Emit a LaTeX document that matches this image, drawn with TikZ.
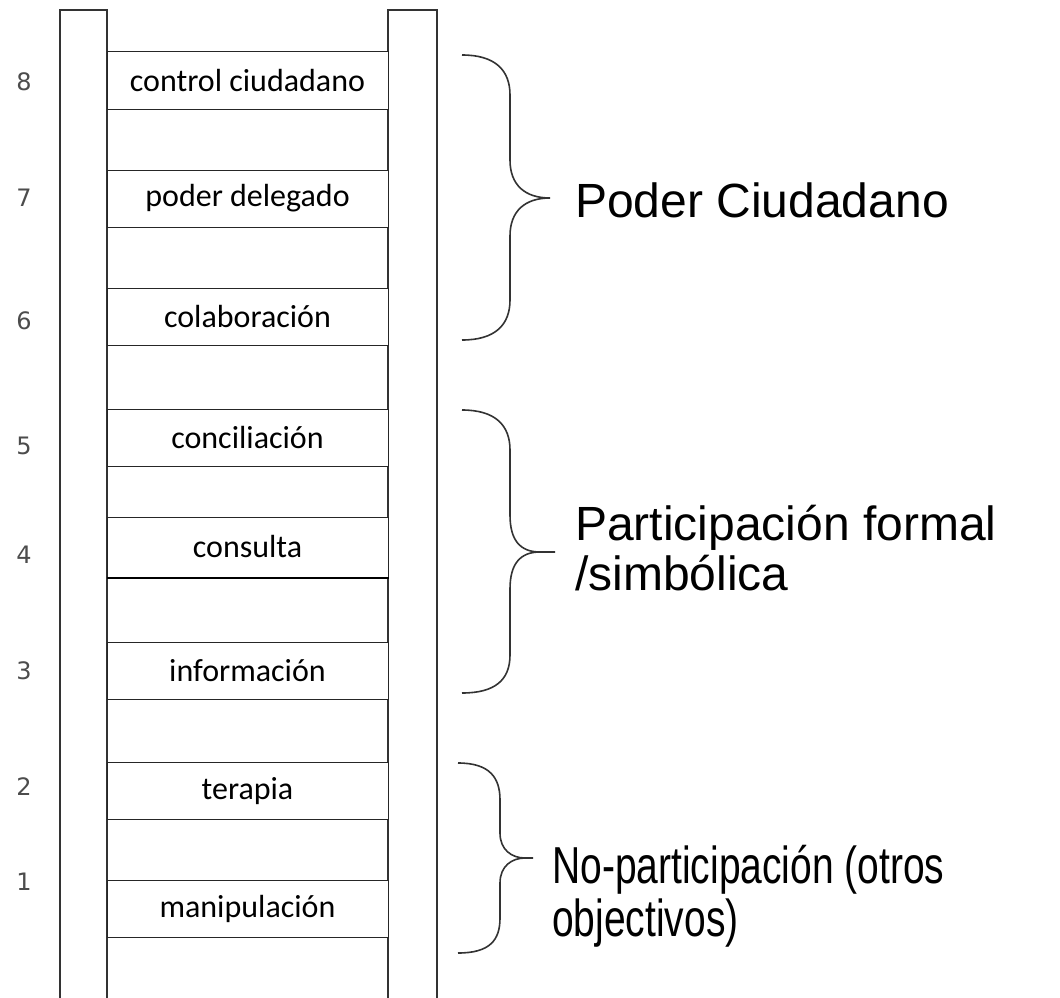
\documentclass[tikz,border=0pt]{standalone}
\usepackage{fontspec}
\newfontfamily\rungfont{Carlito}
\newfontfamily\labfont{Liberation Sans}
\newfontfamily\narrowfont{Liberation Sans}[FakeStretch=0.75]
\newfontfamily\numfont{DejaVu Sans}
\begin{document}
\begin{tikzpicture}[x=1pt,y=-1pt,
  rail/.style={draw=black!80,line width=2.6pt,fill=white},
  rung/.style={draw=black!85,line width=1pt,fill=white,minimum width=281pt,minimum height=57pt,inner sep=0pt,font=\rungfont\fontsize{32}{38}\selectfont},
  num/.style={font=\numfont\fontsize{24}{28}\selectfont,text=black!70,inner sep=0pt},
  lab/.style={font=\labfont\fontsize{48}{50}\selectfont,anchor=base west,inner sep=0pt},
  narrowlab/.style={font=\narrowfont\fontsize{52}{52}\selectfont,anchor=base west,inner sep=0pt},
  bracepath/.style={draw=black!80,line width=1.6pt}]
\useasboundingbox (0,0) rectangle (1060,998);
% rails
\draw[rail] (60,1010) -- (60,10) -- (107,10) -- (107,1010);
\draw[rail] (388,1010) -- (388,10) -- (437,10) -- (437,1010);
% rungs
\node[rung] (r8) at (247.5,80.5) {control ciudadano};
\node[rung] (r7) at (247.5,198.5) {poder delegado};
\node[rung] (r6) at (247.5,316.5) {colaboración};
\node[rung] (r5) at (247.5,438) {conciliación};
\node[rung,minimum height=60pt] (r4) at (247.5,547) {consulta};
\draw[black,line width=2pt] (r4.south west) -- (r4.south east);
\node[rung] (r3) at (247.5,671) {información};
\node[rung] (r2) at (247.5,791) {terapia};
\node[rung] (r1) at (247.5,908.5) {manipulación};
% numbers
\node[num] (n8) at (24,82) {8};
\node[num] (n7) at (24,198) {7};
\node[num] (n6) at (24,321) {6};
\node[num] (n5) at (24,446) {5};
\node[num] (n4) at (24,555) {4};
\node[num] (n3) at (24,671) {3};
\node[num] (n2) at (24,787) {2};
\node[num] (n1) at (24,882) {1};
% braces
\draw[bracepath] (462,55) .. controls (495,55) and (510,70) .. (510,95) -- (510,160)
  .. controls (510,185) and (525,198) .. (550,198)
  .. controls (525,198) and (510,211) .. (510,236) -- (510,300)
  .. controls (510,325) and (495,340) .. (462,340);
\draw[bracepath] (462,410) .. controls (495,410) and (510,425) .. (510,450) -- (510,515)
  .. controls (510,540) and (520,552) .. (540,552) -- (555,552);
\draw[bracepath] (540,552) .. controls (520,552) and (510,564) .. (510,589) -- (510,655)
  .. controls (510,680) and (495,693) .. (462,693);
\draw[bracepath] (458,763) .. controls (490,763) and (500,778) .. (500,800) -- (500,833)
  .. controls (500,850) and (512,858) .. (525,858) -- (533,858);
\draw[bracepath] (525,858) .. controls (512,858) and (500,866) .. (500,883) -- (500,918)
  .. controls (500,940) and (490,953) .. (458,953);
% labels
\node[lab] (pc) at (575,217) {Poder Ciudadano};
\node[lab] (pf1) at (575,540) {Participación formal};
\node[lab] (pf2) at (575,590) {/simbólica};
\node[narrowlab] (np1) at (552,883) {No-participación (otros};
\node[narrowlab] (np2) at (552,936) {objectivos)};
\end{tikzpicture}
\end{document}
